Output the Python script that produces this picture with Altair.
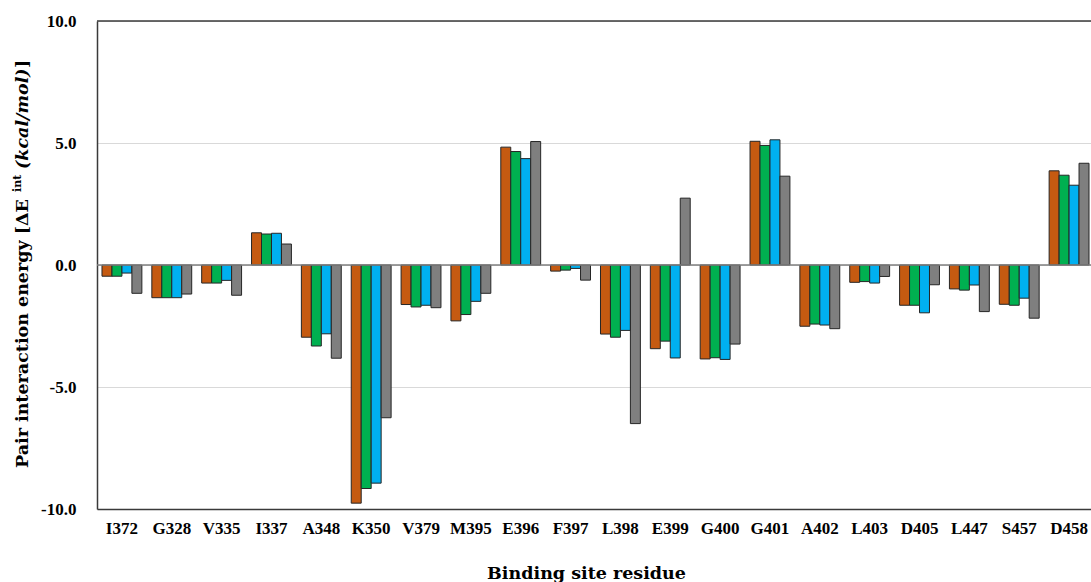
import altair as alt
import pandas as pd

# Binding-site residues along the x axis
residues = ["I372", "G328", "V335", "I337", "A348", "K350", "V379", "M395", "E396", "F397",
            "L398", "E399", "G400", "G401", "A402", "L403", "D405", "L447", "S457", "D458"]

# Pair interaction energies (kcal/mol), one list per system
series_names = ["S1", "S2", "S3", "S4"]
s1 = [-0.46, -1.34, -0.74, 1.32, -2.96, -9.76, -1.62, -2.29, 4.83, -0.25,
      -2.83, -3.43, -3.85, 5.07, -2.51, -0.71, -1.65, -0.98, -1.61, 3.86]
s2 = [-0.46, -1.34, -0.74, 1.27, -3.32, -9.16, -1.72, -2.03, 4.65, -0.21,
      -2.96, -3.12, -3.80, 4.90, -2.42, -0.68, -1.65, -1.03, -1.65, 3.68]
s3 = [-0.33, -1.34, -0.63, 1.30, -2.82, -8.94, -1.65, -1.49, 4.36, -0.14,
      -2.68, -3.81, -3.87, 5.13, -2.46, -0.74, -1.96, -0.82, -1.36, 3.27]
s4 = [-1.16, -1.19, -1.24, 0.86, -3.82, -6.26, -1.75, -1.16, 5.06, -0.62,
      -6.50, 2.74, -3.24, 3.64, -2.61, -0.47, -0.81, -1.91, -2.18, 4.17]
series_colors = ["#C55A11", "#00B050", "#00B0F0", "#7F7F7F"]

# Y axis tick values
y_ticks = [-10, -5, 0, 5, 10]

rows = []
for name, vals in zip(series_names, [s1, s2, s3, s4]):
    for res, v in zip(residues, vals):
        rows.append({"residue": res, "series": name, "energy": v})
df = pd.DataFrame(rows)
one = pd.DataFrame({"k": [0]})

W, H = 994, 488
XR = 997  # band range, slightly wider than the visible frame

title_font = "DejaVu Serif"
label_font = "Liberation Serif"

bars = alt.Chart(df).mark_bar(stroke="#262626", strokeWidth=1).encode(
    x=alt.X("residue:N", sort=residues,
            scale=alt.Scale(range=[0, XR], paddingInner=0.2, paddingOuter=0.1),
            axis=alt.Axis(title="Binding site residue", labelAngle=0, ticks=False,
                          labelPadding=11, domainColor="#3a3a3a", domainWidth=1.5,
                          titleX=489, titleY=69, titleAlign="center",
                          titleBaseline="alphabetic", titleFont=title_font,
                          titleFontSize=17.5, titleFontWeight="bold",
                          titleColor="#000000")),
    xOffset=alt.XOffset("series:N", sort=series_names,
                        scale=alt.Scale(paddingInner=0, paddingOuter=0)),
    y=alt.Y("energy:Q", scale=alt.Scale(domain=[-10, 10], nice=False, zero=False),
            axis=alt.Axis(title=None, values=y_ticks, ticks=False, labelPadding=21,
                          labelExpr="replace(format(datum.value, '.1f'), '\u2212', '-')",
                          grid=True, gridColor="#d9d9d9", gridWidth=1,
                          domainColor="#3a3a3a", domainWidth=1.5)),
    color=alt.Color("series:N", sort=series_names,
                    scale=alt.Scale(domain=series_names, range=series_colors),
                    legend=None),
)

zero_line = alt.Chart(one).mark_rule(color="#7f7f7f", strokeWidth=1.3).encode(
    y=alt.datum(0), x=alt.value(0), x2=alt.value(XR)
)
top_line = alt.Chart(one).mark_rule(color="#3a3a3a", strokeWidth=1.5).encode(
    y=alt.value(0), x=alt.value(0), x2=alt.value(XR)
)


def title_piece(text, y, x=-69, size=17.5, style="normal", align="left"):
    return alt.Chart(one).mark_text(
        text=text, angle=270, align=align, baseline="alphabetic",
        font=title_font, fontWeight="bold", fontSize=size, fontStyle=style,
        color="#000000",
    ).encode(x=alt.value(x), y=alt.value(y))


ytitle = [
    title_piece("Pair interaction energy [\u0394E", 447),
    title_piece("int", 171, x=-76, size=11),
    title_piece("(kcal/mol)", 148, style="italic"),
    title_piece("]", 47),
]

chart = alt.layer(bars, zero_line, top_line, *ytitle).properties(
    width=W, height=H,
    autosize=alt.AutoSizeParams(type="none"),
    padding={"left": 97, "top": 21, "right": 0, "bottom": 73},
    background="white",
).configure_view(stroke=None).configure_axis(
    labelFont=label_font, labelFontSize=17, labelFontWeight="bold", labelColor="#000000",
)

chart.save("out.html", embed_options={"renderer": "svg", "actions": False})
